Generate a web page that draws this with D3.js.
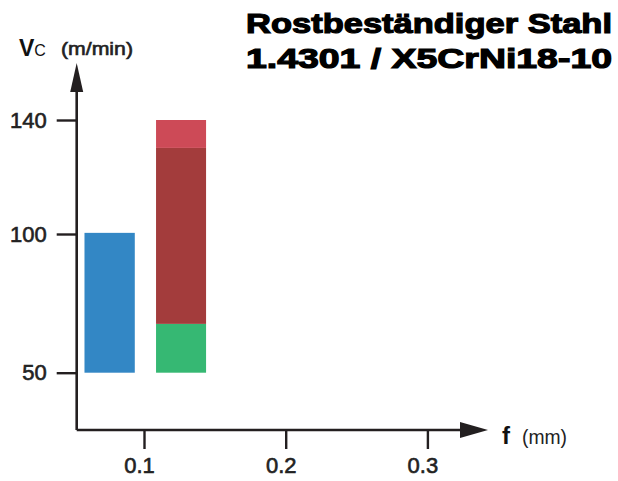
<!DOCTYPE html>
<html>
<head>
<meta charset="utf-8">
<script src="https://cdn.jsdelivr.net/npm/d3@7"></script>
<style>
  body { margin: 0; background: #fff; }
  svg { display: block; font-family: "Liberation Sans", Arial, sans-serif; }
</style>
</head>
<body>
<svg id="chart" width="618" height="481"></svg>
<script>
// data
const fTicks = [0.1, 0.2, 0.3];
const vTicks = [50, 100, 140];

// one entry per coloured block: feed range (f) and cutting speed range (vc)
const segNames = ["blau", "gruen", "dunkelrot", "rot"];
const segFStart = [0.058, 0.1085, 0.1085, 0.1085];
const segFEnd = [0.0935, 0.1438, 0.1438, 0.1438];
const segVLow = [50, 50, 67.6, 130.2];
const segVHigh = [100.4, 67.6, 130.2, 140];
const segColors = ["#3387c5", "#36b873", "#a33c3c", "#cd4a57"];

const titleLines = ["Rostbeständiger Stahl", "1.4301 / X5CrNi18-10"];

const W = 618, H = 481;
const axisColor = "#231f20";
const originX = 76.7, originY = 430;

const svg = d3.select("#chart");
svg.append("rect").attr("width", W).attr("height", H).attr("fill", "#fff");

// scales (the vc axis of the original is not quite uniform, so piecewise)
const x = d3.scaleLinear().domain([0.1, 0.3]).range([144, 427.4]);
const y = d3.scaleLinear().domain([50, 100, 140]).range([372.7, 234, 120]);

// bars
svg.append("g").selectAll("rect")
  .data(segNames)
  .join("rect")
  .attr("x", (d, i) => x(segFStart[i]))
  .attr("width", (d, i) => x(segFEnd[i]) - x(segFStart[i]))
  .attr("y", (d, i) => y(segVHigh[i]))
  .attr("height", (d, i) => y(segVLow[i]) - y(segVHigh[i]))
  .attr("fill", (d, i) => segColors[i]);

// medium-weight look: regular face with a thin outline
function medium(sel, size) {
  sel.attr("fill", "#222").attr("stroke", "#222").attr("stroke-width", 0.6)
    .style("font-size", size + "px").style("font-weight", "normal")
    .style("font-family", "'Liberation Sans', Arial, sans-serif");
}

// y axis ticks
const yAxis = svg.append("g")
  .attr("transform", `translate(${originX},0)`)
  .call(d3.axisLeft(y).tickValues(vTicks).tickSizeInner(20).tickSizeOuter(0).tickPadding(10));
yAxis.select(".domain").remove();
yAxis.selectAll("line").attr("stroke", axisColor).attr("stroke-width", 2.4);
yAxis.selectAll("text").call(medium, 22);

// x axis ticks
const xAxis = svg.append("g")
  .attr("transform", `translate(0,${originY})`)
  .call(d3.axisBottom(x).tickValues(fTicks).tickFormat(d3.format(".1f"))
    .tickSizeInner(19).tickSizeOuter(0).tickPadding(8));
xAxis.select(".domain").remove();
xAxis.selectAll("line").attr("stroke", axisColor).attr("stroke-width", 2.4);
xAxis.selectAll("text").attr("dx", -5).call(medium, 22);

// axis lines with arrow heads
svg.append("path")
  .attr("d", `M${originX},${originY} V90 M${originX},${originY} H462`)
  .attr("fill", "none").attr("stroke", axisColor).attr("stroke-width", 2.6);
svg.append("path")
  .attr("d", `M${originX},63 L${originX + 6.5},92 L${originX - 6.5},92 Z`)
  .attr("fill", axisColor);
svg.append("path")
  .attr("d", `M488,${originY} L460,${originY - 8} L460,${originY + 8} Z`)
  .attr("fill", axisColor);

// axis titles
const yt = svg.append("text").attr("x", 19).attr("y", 56).attr("fill", "#111");
yt.append("tspan").text("V").style("font-size", "23px").style("font-weight", "bold");
yt.append("tspan").text("C").style("font-size", "16px");
svg.append("text").attr("x", 61).attr("y", 55)
  .call(medium, 18)
  .attr("textLength", 72).attr("lengthAdjust", "spacingAndGlyphs")
  .text("(m/min)");

svg.append("text").attr("x", 502).attr("y", 444).attr("fill", "#111")
  .style("font-size", "24px").style("font-weight", "bold").text("f");
svg.append("text").attr("x", 522).attr("y", 444).attr("fill", "#222")
  .style("font-size", "20px")
  .attr("textLength", 45).attr("lengthAdjust", "spacingAndGlyphs")
  .text("(mm)");

// title
svg.append("g").selectAll("text")
  .data(titleLines)
  .join("text")
  .attr("x", 612)
  .attr("y", (d, i) => 33 + i * 35)
  .attr("text-anchor", "end")
  .attr("fill", "#000").attr("stroke", "#000").attr("stroke-width", 1.2)
  .style("font-size", "28.5px").style("font-weight", "bold")
  .attr("textLength", 366).attr("lengthAdjust", "spacingAndGlyphs")
  .text(d => d);
</script>
</body>
</html>
